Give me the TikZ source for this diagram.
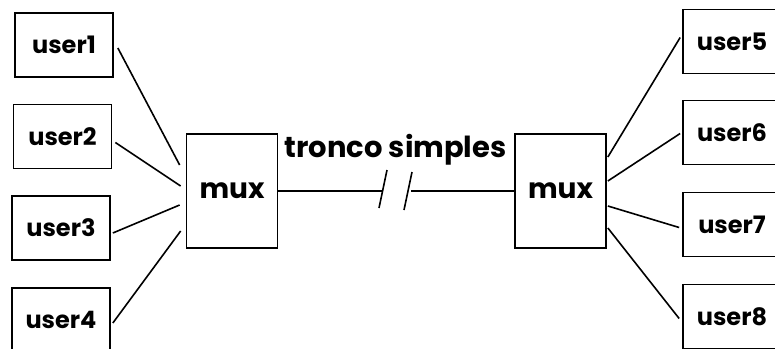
\documentclass[tikz,border=0pt]{standalone}
\usepackage{fontspec}
\setmainfont{Poppins}
\usetikzlibrary{positioning,calc}
\tikzset{
    userbox/.style={rectangle, draw, line width=1.7pt, minimum width=98pt, minimum height=64pt, inner sep=0pt, font=\fontsize{24}{24}\selectfont\bfseries},
    muxbox/.style={rectangle, draw, line width=1.7pt, minimum width=91pt, minimum height=114pt, inner sep=0pt, font=\fontsize{28}{28}\selectfont\bfseries},
    link/.style={line width=1.6pt, black},
}
\begin{document}
\begin{tikzpicture}[x=1pt, y=-1pt]
    \useasboundingbox (0,0) rectangle (775,348);

    % Left side
    \node[muxbox] (muxL) at (232,191) {mux};
    \node[userbox] (u1) at (64,45) {user1};
    \node[userbox] (u2) at (62.5,136.5) {user2};
    \node[userbox] (u3) at (61,228) {user3};
    \node[userbox] (u4) at (61,320) {user4};
    \draw[link] ($(u1.east)+(4,3)$) -- ($(muxL.west)+(-6,-26)$);
    \draw[link] ($(u2.east)+(3,6)$) -- ($(muxL.west)+(-5,-5)$);
    \draw[link] ($(u3.east)+(2,5)$) -- ($(muxL.west)+(-6,14)$);
    \draw[link] ($(u4.east)+(2,3)$) -- ($(muxL.west)+(-5,40)$);

    % Right side
    \node[muxbox] (muxR) at (560.5,191) {mux};
    \node[userbox] (u5) at (732,41.5) {user5};
    \node[userbox] (u6) at (732,132.5) {user6};
    \node[userbox] (u7) at (732,224.5) {user7};
    \node[userbox] (u8) at (732,316.5) {user8};
    \draw[link] ($(muxR.east)+(1,-34)$) -- ($(u5.west)+(-2,-4)$);
    \draw[link] ($(muxR.east)+(1,-10)$) -- ($(u6.west)+(-2,1)$);
    \draw[link] ($(muxR.east)+(1,15)$) -- ($(u7.west)+(-3,3)$);
    \draw[link] ($(muxR.east)+(1,37)$) -- ($(u8.west)+(-3,2)$);

    % Trunk with break
    \coordinate (brkA) at (382,191);
    \coordinate (brkB) at (411,191);
    \draw[link] (muxL.east) -- (brkA);
    \draw[link] (brkB) -- (muxR.west);
    \draw[link] (379,208) -- (387,170);
    \draw[link] (404,210) -- (412,172);
    \node[anchor=base, font=\fontsize{29}{29}\selectfont\bfseries, inner sep=0pt] (trunk) at (395.5,157) {tronco simples};
\end{tikzpicture}
\end{document}
